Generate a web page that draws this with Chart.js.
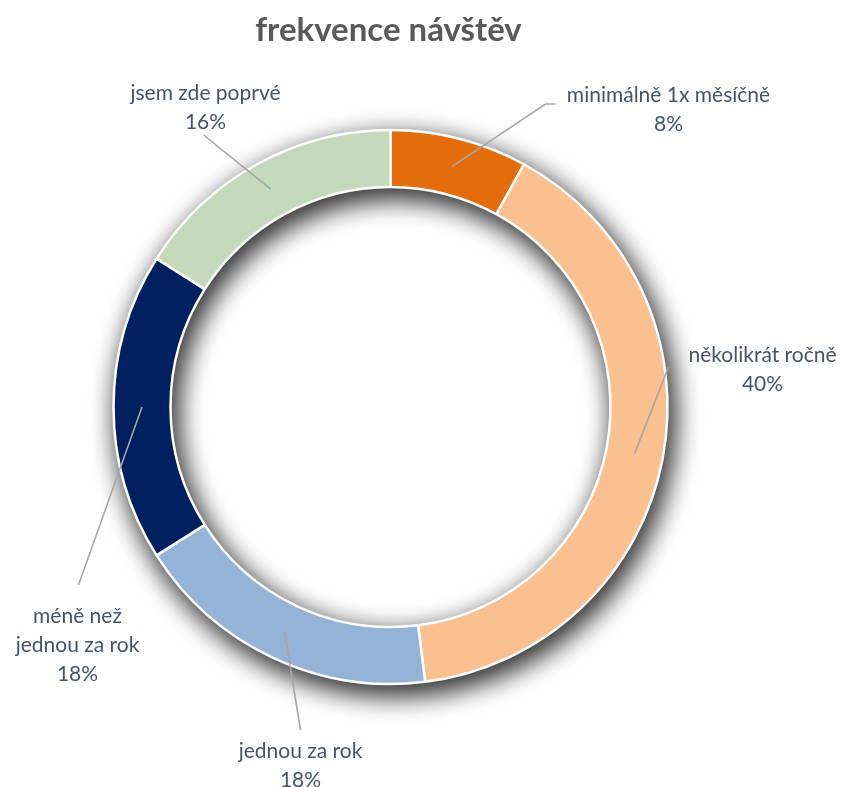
<!DOCTYPE html>
<html><head><meta charset="utf-8">
<script src="https://cdn.jsdelivr.net/npm/chart.js@4/dist/chart.umd.min.js"></script>
<style>html,body{margin:0;padding:0;background:#fff}#wrap{width:841px;height:787px}</style>
</head><body><div id="wrap"><canvas id="c" width="841" height="787"></canvas></div>
<script>
const title = "frekvence návštěv";
const categories = ["minimálně 1x měsíčně", "několikrát ročně", "jednou za rok", "méně než jednou za rok", "jsem zde poprvé"];
const labelLines = [["minimálně 1x měsíčně"], ["několikrát ročně"], ["jednou za rok"], ["méně než", "jednou za rok"], ["jsem zde poprvé"]];
const values = [8, 40, 18, 18, 16];
const colors = ["#E46C0A", "#FAC090", "#95B3D7", "#002060", "#C4D8BC"];
// label placement (offsets from chart centre, layout only)
const labelPos = [
  {tx: 278, ty: -312, lx: 155, ly: -303, hx: 165},
  {tx: 372, ty: -52, lx: 278, ly: -40, hx: 278},
  {tx: -90, ty: 344, lx: -90, ly: 323, hx: -90},
  {tx: -313, ty: 209, lx: -312, ly: 178, hx: -312},
  {tx: -185, ty: -314, lx: -187, ly: -272, hx: -187}
];

const FONT = 'Lato, "Open Sans", sans-serif';

const ringShadow = {
  id: 'ringShadow',
  beforeDatasetsDraw(chart) {
    const arc = chart.getDatasetMeta(0).data[0];
    if (!arc) return;
    const {x, y, outerRadius, innerRadius} = arc.getProps(['x','y','outerRadius','innerRadius'], true);
    const ctx = chart.ctx;
    ctx.save();
    ctx.shadowColor = 'rgba(0,0,0,0.6)';
    ctx.shadowBlur = 28;
    ctx.shadowOffsetX = 5;
    ctx.shadowOffsetY = 9;
    ctx.fillStyle = '#ffffff';
    for (let k = 0; k < 2; k++) {
      ctx.beginPath();
      ctx.arc(x, y, outerRadius, 0, Math.PI * 2);
      ctx.arc(x, y, innerRadius, 0, Math.PI * 2, true);
      ctx.fill();
    }
    ctx.restore();
  }
};

const labelsPlugin = {
  id: 'labelsPlugin',
  afterDatasetsDraw(chart) {
    const ctx = chart.ctx;
    const meta = chart.getDatasetMeta(0);
    const total = values.reduce((a, b) => a + b, 0);
    ctx.save();
    // title
    ctx.fillStyle = '#595959';
    ctx.font = 'bold 33px ' + FONT;
    ctx.textAlign = 'center';
    ctx.textBaseline = 'middle';
    const c0 = meta.data[0];
    ctx.fillText(title, c0.x - 2, 30);
    meta.data.forEach((arc, i) => {
      const p = arc.getProps(['x','y','startAngle','endAngle','outerRadius','innerRadius'], true);
      const mid = (p.startAngle + p.endAngle) / 2;
      const r = (p.outerRadius + p.innerRadius) / 2;
      const sx = p.x + Math.cos(mid) * r;
      const sy = p.y + Math.sin(mid) * r;
      const lp = labelPos[i];
      ctx.strokeStyle = '#A6A6A6';
      ctx.lineWidth = 1.6;
      ctx.beginPath();
      ctx.moveTo(sx, sy);
      ctx.lineTo(p.x + lp.lx, p.y + lp.ly);
      ctx.lineTo(p.x + lp.hx, p.y + lp.ly);
      ctx.stroke();
      ctx.fillStyle = '#44546A';
      ctx.font = '21px ' + FONT;
      const lines = labelLines[i].concat([Math.round(values[i] / total * 100) + '%']);
      lines.forEach((t, k) => {
        ctx.fillText(t, p.x + lp.tx, p.y + lp.ty + k * 29);
      });
    });
    ctx.restore();
  }
};

new Chart(document.getElementById('c'), {
  type: 'doughnut',
  data: {
    labels: categories,
    datasets: [{
      data: values,
      backgroundColor: colors,
      borderColor: '#ffffff',
      borderWidth: 2.5,
      hoverOffset: 0
    }]
  },
  options: {
    responsive: false,
    animation: false,
    radius: 277,
    cutout: 219,
    layout: {padding: {left: 113, right: 173, top: 130, bottom: 103}},
    plugins: {legend: {display: false}, tooltip: {enabled: false}, title: {display: false}}
  },
  plugins: [ringShadow, labelsPlugin]
});
</script>
</body></html>
